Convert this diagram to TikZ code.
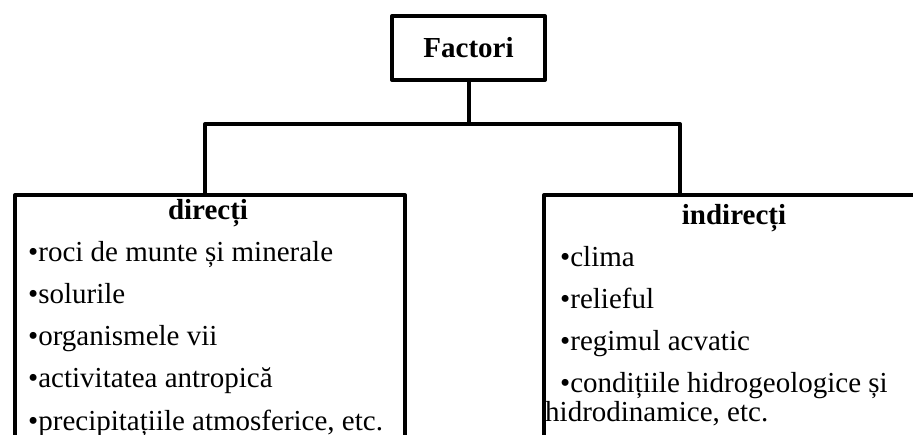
\documentclass[tikz,border=0pt]{standalone}
\usepackage{fontspec}
\setmainfont{Liberation Serif}
\begin{document}
\begin{tikzpicture}[x=1pt,y=-1pt,
  boxline/.style={draw=black,line width=4pt,line join=round},
  conn/.style={draw=black,line width=4pt,line join=round},
  txt/.style={inner sep=0pt,font=\fontsize{29}{34}\selectfont},
  ttl/.style={inner sep=0pt,font=\fontsize{29}{34}\selectfont\bfseries}]
\useasboundingbox (0,0) rectangle (913,435);
\clip (0,0) rectangle (913,435);
% top box
\node[boxline,minimum width=153pt,minimum height=64pt,inner sep=0pt,
      font=\fontsize{29}{34}\selectfont\bfseries] (F) at (468.5,48) {Factori};
% lower boxes (cut off by the picture's edges)
\node[boxline,minimum width=390pt,minimum height=300pt,anchor=north west,inner sep=0pt] (L) at (13,193) {};
\node[boxline,minimum width=390pt,minimum height=300pt,anchor=north west,inner sep=0pt] (R) at (542,193) {};
% connectors
\coordinate (jl) at (205,124);
\coordinate (jr) at (680,124);
\draw[conn] (F.south) -- (F.south |- jl);
\draw[conn] (L.north -| jl) -- (jl) -- (jr) -- (R.north -| jr);
% left box text
\node[ttl,anchor=base] (lt) at (208,220) {direcți};
\node[txt,anchor=base west] (l1) at (28,262) {•roci de munte și minerale};
\node[txt,anchor=base west] (l2) at (28,304) {•solurile};
\node[txt,anchor=base west] (l3) at (28,346) {•organismele vii};
\node[txt,anchor=base west] (l4) at (28,388) {•activitatea antropică};
\node[txt,anchor=base west] (l5) at (28,430) {•precipitațiile atmosferice, etc.};
% right box text
\node[ttl,anchor=base] (rt) at (734,225) {indirecți};
\node[txt,anchor=base west] (r1) at (560,267) {•clima};
\node[txt,anchor=base west] (r2) at (560,309) {•relieful};
\node[txt,anchor=base west] (r3) at (560,351) {•regimul acvatic};
\node[txt,anchor=base west] (r4) at (560,393) {•condițiile hidrogeologice și};
\node[txt,anchor=base west] (r5) at (545,421) {hidrodinamice, etc.};
\end{tikzpicture}
\end{document}
